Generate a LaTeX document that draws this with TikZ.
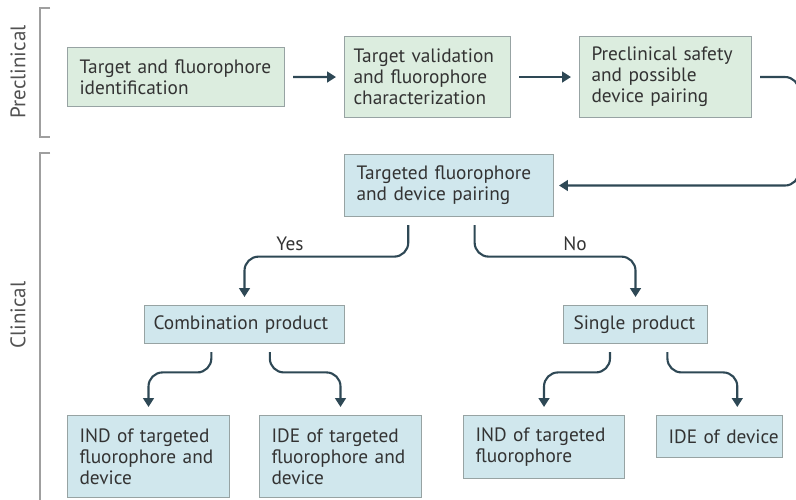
\documentclass[tikz,border=0pt]{standalone}
\usepackage{fontspec}
\setmainfont{PT Sans}
\usetikzlibrary{arrows.meta,positioning,calc}
\definecolor{ink}{HTML}{2E4855}
\definecolor{mint}{HTML}{DCEDDF}
\definecolor{sky}{HTML}{D0E7ED}
\definecolor{rim}{HTML}{97A3A3}
\definecolor{txt}{HTML}{333333}

\begin{document}
\begin{tikzpicture}[x=0.02cm,y=-0.02cm,>={Triangle[width=6pt,length=5pt]},
  box/.style={draw=rim,line width=0.6pt,anchor=north west,align=left,text=txt,inner xsep=0.24cm,inner ysep=0pt,font=\fontsize{11}{12}\selectfont},
  pre/.style={box,fill=mint},
  clin/.style={box,fill=sky},
  flow/.style={->,draw=ink,line width=1.2pt,rounded corners=8pt,shorten <=0.16cm,shorten >=0.16cm},
  bracket/.style={draw=gray!75,line width=0.8pt},
  side/.style={rotate=90,text=txt!85,font=\fontsize{12}{14}\selectfont}]
  \useasboundingbox (0,0) rectangle (796,500);
  % phases
  \draw[bracket] (50,8) -- (40,8) -- (40,137) -- (50,137);
  \draw[bracket] (50,153) -- (40,153) -- (40,510);
  \node[side] (prelab) at (18,72) {Preclinical};
  \node[side] (clinlab) at (18,315) {Clinical};
  % preclinical row
  \node[pre,text width=3.86cm,minimum height=1.18cm] (ident) at (67,47) {Target and fluorophore\\identification};
  \node[pre,text width=2.96cm,minimum height=1.62cm,inner xsep=0.18cm] (valid) at (344,36) {Target validation\\and fluorophore\\characterization};
  \node[pre,text width=2.96cm,minimum height=1.62cm] (safety) at (579,36) {Preclinical safety\\and possible\\device pairing};
  % clinical tree
  \node[clin,text width=3.70cm,minimum height=1.24cm] (pairing) at (344,154) {Targeted fluorophore\\and device pairing};
  \node[clin,text width=3.64cm,minimum height=0.76cm,inner xsep=0.18cm] (combo) at (144,305) {Combination product};
  \node[clin,text width=2.48cm,minimum height=0.76cm,inner xsep=0.2cm] (single) at (563,305) {Single product};
  \node[clin,text width=2.76cm,minimum height=1.64cm] (indboth) at (67,415) {IND of targeted\\fluorophore and\\device};
  \node[clin,text width=2.76cm,minimum height=1.64cm] (ideboth) at (259,415) {IDE of targeted\\fluorophore and\\device};
  \node[clin,text width=2.74cm,minimum height=1.26cm] (indfl) at (463,415) {IND of targeted\\fluorophore};
  \node[clin,text width=2.04cm,minimum height=0.84cm] (idedev) at (656,415) {\mbox{IDE of device}};
  \coordinate (ret) at (799,77);
  \draw[flow] (ident.east) -- (valid.west);
  \draw[flow] (valid.east) -- (safety.west);
  \draw[flow,shorten >=0.1cm] (safety.east) -- (ret) |- (pairing.east);
  % yes / no
  \coordinate (yes) at ($(pairing.south west)!.306!(pairing.south east)$);
  \coordinate (no) at ($(pairing.south west)!.622!(pairing.south east)$);
  \draw[flow] (yes) |- ($(yes)!.45!(combo.north)$) -| (combo.north);
  \draw[flow] (no) |- ($(no)!.45!(single.north)$) -| (single.north);
  \node[text=txt,font=\fontsize{11}{12}\selectfont] (yeslab) at (290,244) {Yes};
  \node[text=txt,font=\fontsize{11}{12}\selectfont] (nolab) at (575,244) {No};
  % products
  \coordinate (c1) at ($(combo.south west)!.335!(combo.south east)$);
  \coordinate (c2) at ($(combo.south west)!.626!(combo.south east)$);
  \coordinate (s1) at ($(single.south west)!.324!(single.south east)$);
  \coordinate (s2) at ($(single.south west)!.72!(single.south east)$);
  \coordinate (dv) at ($(idedev.north west)!.64!(idedev.north east)$);
  \draw[flow] (c1) |- ($(c1)!.4!(indboth.north)$) -| (indboth.north);
  \draw[flow] (c2) |- ($(c2)!.4!(ideboth.north)$) -| (ideboth.north);
  \draw[flow] (s1) |- ($(s1)!.4!(indfl.north)$) -| (indfl.north);
  \draw[flow] (s2) |- ($(s2)!.4!(dv)$) -| (dv);
\end{tikzpicture}
\end{document}
